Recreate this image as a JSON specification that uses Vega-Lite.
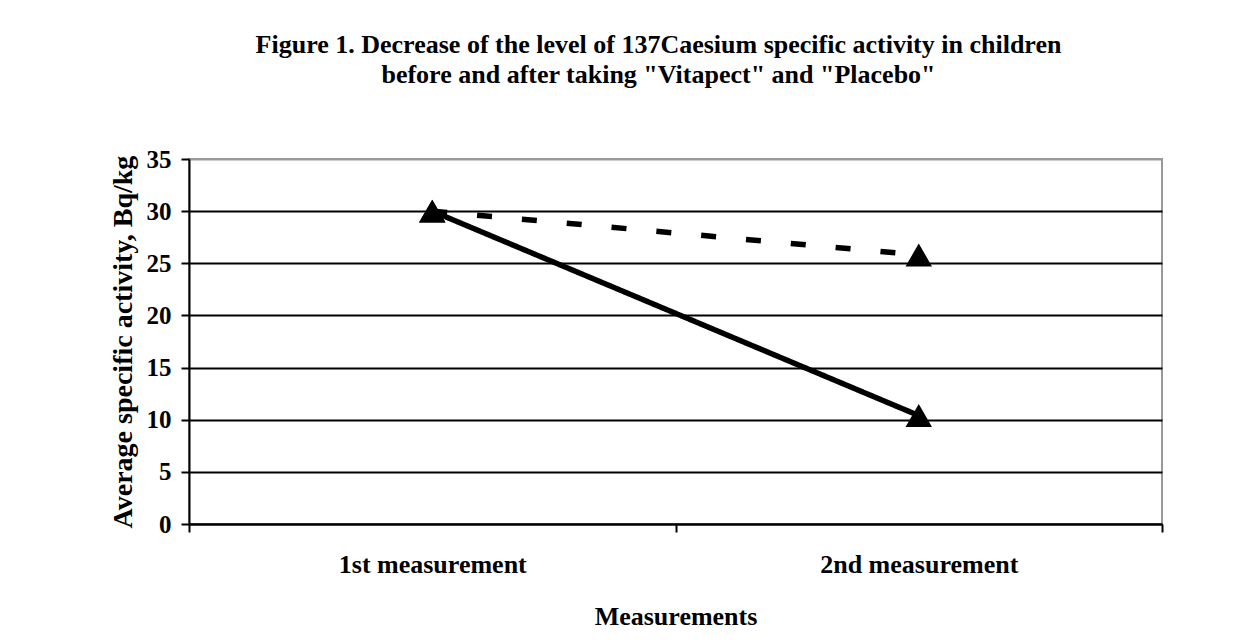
{
  "$schema": "https://vega.github.io/schema/vega-lite/v6.json",
  "width": 973,
  "height": 365,
  "autosize": {"type": "none"},
  "padding": {"left": 189, "top": 159, "right": 77, "bottom": 119},
  "background": "white",
  "title": {
    "text": ["Figure 1. Decrease of the level of 137Caesium specific activity in children", "before and after taking \"Vitapect\" and \"Placebo\""],
    "font": "Liberation Serif",
    "fontSize": 26,
    "fontWeight": "bold",
    "color": "black",
    "anchor": "middle",
    "lineHeight": 30,
    "offset": 59,
    "dx": -17
  },
  "data": {
    "values": [
      {"measurement": "1st measurement", "group": "Vitapect", "activity": 30.0},
      {"measurement": "2nd measurement", "group": "Vitapect", "activity": 10.4},
      {"measurement": "1st measurement", "group": "Placebo", "activity": 30.0},
      {"measurement": "2nd measurement", "group": "Placebo", "activity": 25.8}
    ]
  },
  "encoding": {
    "x": {
      "field": "measurement",
      "type": "nominal",
      "sort": ["1st measurement", "2nd measurement"],
      "scale": {"type": "band", "paddingInner": 0, "paddingOuter": 0},
      "axis": {
        "title": "Measurements",
        "labelAngle": 0,
        "labelLimit": 0,
        "tickBand": "extent",
        "tickSize": 8,
        "tickWidth": 2,
        "tickColor": "black",
        "domainColor": "black",
        "domainWidth": 2,
        "grid": false,
        "labelFont": "Liberation Serif",
        "labelFontSize": 26,
        "labelFontWeight": "bold",
        "labelColor": "black",
        "labelPadding": 19,
        "titleFont": "Liberation Serif",
        "titleFontSize": 26,
        "titleFontWeight": "bold",
        "titleColor": "black",
        "titlePadding": 26
      }
    },
    "y": {
      "field": "activity",
      "type": "quantitative",
      "scale": {"domain": [0, 35], "nice": false, "zero": true},
      "axis": {
        "title": "Average specific activity, Bq/kg",
        "values": [0, 5, 10, 15, 20, 25, 30, 35],
        "grid": true,
        "gridColor": {"condition": {"test": "datum.value === 35", "value": "#999999"}, "value": "black"},
        "gridWidth": 2,
        "tickSize": 8,
        "tickWidth": 2,
        "tickColor": "black",
        "domainColor": "black",
        "domainWidth": 2,
        "labelFont": "Liberation Serif",
        "labelFontSize": 25,
        "labelFontWeight": "bold",
        "labelColor": "black",
        "labelPadding": 10,
        "titleFont": "Liberation Serif",
        "titleFontSize": 28,
        "titleFontWeight": "bold",
        "titleColor": "black",
        "titlePadding": 9
      }
    }
  },
  "layer": [
    {
      "mark": {"type": "line", "strokeWidth": 5.5, "color": "black"},
      "encoding": {
        "detail": {"field": "group"},
        "strokeDash": {
          "field": "group",
          "type": "nominal",
          "scale": {"domain": ["Vitapect", "Placebo"], "range": [[1, 0], [15, 30]]},
          "legend": null
        }
      }
    },
    {
      "mark": {"type": "point", "shape": "triangle-up", "filled": true, "color": "black", "size": 700, "opacity": 1}
    }
  ],
  "config": {
    "view": {"stroke": "#999999", "strokeWidth": 2}
  }
}
